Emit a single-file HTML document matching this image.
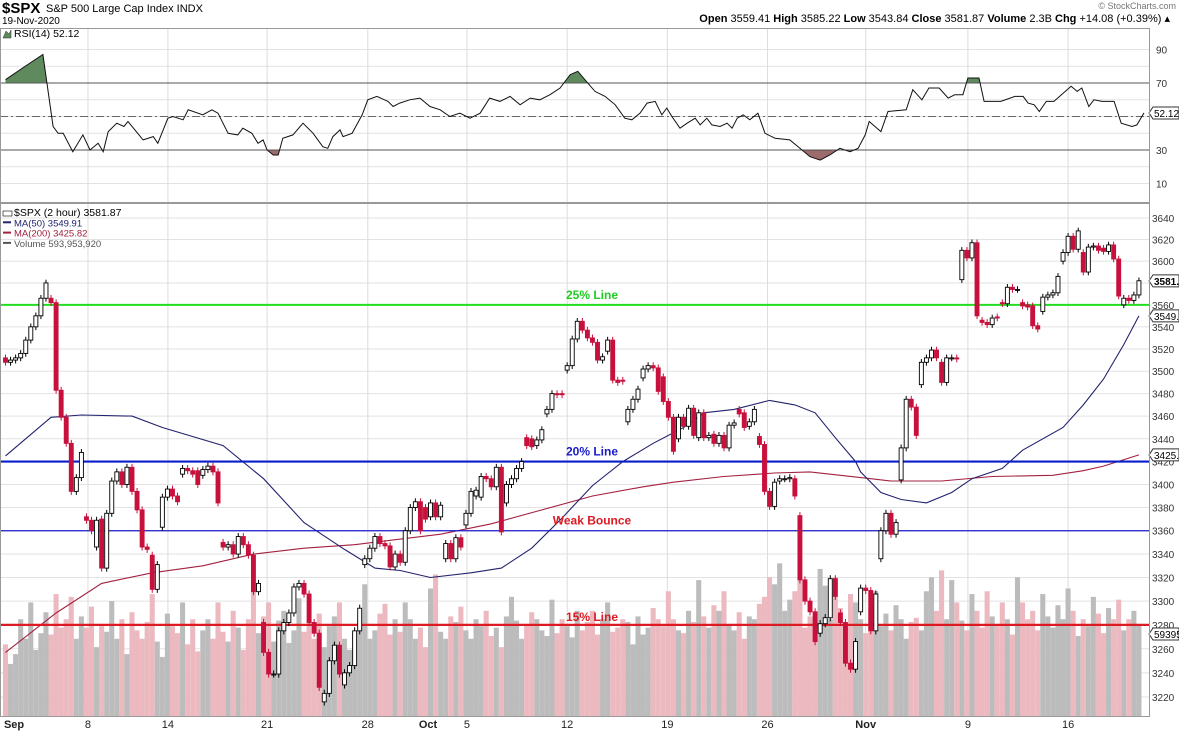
<!DOCTYPE html>
<html><head><meta charset="utf-8">
<style>
html,body{margin:0;padding:0;background:#fff;}
svg{display:block;font-family:"Liberation Sans",Arial,sans-serif;}
</style></head>
<body>
<svg id="chart" width="1179" height="732" viewBox="0 0 1179 732" xmlns="http://www.w3.org/2000/svg">
<rect x="0" y="0" width="1179" height="732" fill="#fff"/>
<g id="header">
  <text x="2" y="13" font-size="15" font-weight="bold" fill="#000">$SPX</text>
  <text x="46" y="12" font-size="11" fill="#000">S&amp;P 500 Large Cap Index  INDX</text>
  <text x="2" y="24" font-size="10" fill="#000">19-Nov-2020</text>
  <text x="1176" y="9" font-size="9" fill="#777" text-anchor="end">© StockCharts.com</text>
  <text x="1170" y="22" font-size="11" fill="#000" text-anchor="end"><tspan font-weight="bold">Open</tspan> 3559.41  <tspan font-weight="bold">High</tspan> 3585.22  <tspan font-weight="bold">Low</tspan> 3543.84  <tspan font-weight="bold">Close</tspan> 3581.87  <tspan font-weight="bold">Volume</tspan> 2.3B  <tspan font-weight="bold">Chg</tspan> +14.08 (+0.39%) ▴</text>
</g>
<g id="rsiPanel"></g>
<g id="mainPanel"></g>
<g id="xAxis"></g>
</svg>
<script>
const opens = [3512,3508,3510,3512,3516,3528,3540,3550,3566,3566,3562,3483,3459,3436,3394,3406,3372,3369,3346,3370,3328,3375,3403,3411,3400,3415,3394,3378,3346,3339,3310,3363,3389,3396,3390,3409,3414,3412,3412,3408,3413,3416,3411,3350,3346,3348,3340,3355,3348,3339,3308,3282,3257,3239,3239,3275,3282,3290,3312,3315,3306,3282,3273,3216,3223,3250,3263,3230,3240,3246,3275,3331,3336,3345,3355,3349,3347,3329,3340,3333,3360,3380,3385,3380,3372,3384,3372,3336,3349,3336,3354,3365,3375,3390,3389,3407,3405,3398,3415,3384,3400,3405,3414,3441,3440,3434,3439,3462,3466,3480,3480,3501,3505,3529,3545,3537,3530,3526,3510,3518,3528,3492,3492,3455,3466,3475,3494,3502,3505,3503,3495,3473,3459,3440,3459,3451,3467,3441,3463,3441,3444,3436,3443,3432,3452,3466,3463,3451,3455,3442,3435,3394,3381,3403,3405,3405,3405,3373,3318,3300,3291,3273,3281,3286,3319,3290,3282,3248,3243,3291,3311,3309,3275,3336,3360,3375,3357,3404,3432,3475,3468,3488,3508,3512,3519,3508,3490,3512,3512,3583,3610,3603,3617,3546,3544,3542,3549,3562,3561,3576,3574,3562,3560,3559,3541,3554,3567,3569,3571,3600,3608,3623,3611,3608,3590,3613,3614,3612,3609,3615,3602,3560,3566,3564,3569];
const closes = [3508,3510,3512,3516,3528,3540,3550,3566,3580,3562,3483,3459,3436,3394,3406,3428,3369,3360,3369,3328,3375,3403,3411,3400,3415,3394,3378,3346,3344,3310,3331,3389,3396,3390,3385,3414,3412,3409,3400,3413,3416,3411,3384,3346,3348,3340,3355,3348,3339,3308,3315,3257,3239,3239,3275,3282,3290,3312,3315,3306,3282,3273,3228,3223,3250,3263,3239,3240,3246,3275,3294,3336,3345,3355,3349,3347,3329,3340,3333,3360,3380,3385,3360,3370,3384,3372,3382,3349,3336,3354,3346,3375,3394,3395,3407,3405,3398,3415,3359,3400,3405,3414,3420,3434,3433,3439,3448,3466,3480,3479,3479,3505,3529,3545,3537,3530,3526,3510,3513,3528,3492,3490,3491,3466,3475,3484,3502,3505,3503,3482,3473,3459,3429,3459,3451,3467,3443,3463,3441,3443,3436,3443,3432,3452,3454,3462,3450,3455,3466,3435,3394,3381,3402,3405,3405,3406,3390,3318,3300,3291,3266,3281,3286,3319,3304,3282,3248,3243,3266,3311,3309,3275,3306,3360,3375,3357,3367,3432,3475,3468,3443,3508,3512,3519,3512,3490,3512,3512,3511,3610,3603,3617,3550,3544,3542,3548,3548,3561,3576,3574,3574,3559,3558,3541,3538,3567,3569,3571,3586,3608,3623,3611,3628,3590,3613,3614,3610,3609,3615,3602,3568,3566,3564,3569,3582];
const volumes = [520,380,450,700,560,820,480,600,750,590,880,640,700,860,560,720,640,790,500,650,610,830,560,700,450,750,620,560,680,880,540,430,740,650,600,820,520,700,470,620,700,560,820,610,540,760,640,480,700,900,600,720,820,540,690,760,530,620,850,610,700,560,740,500,650,720,820,560,480,600,700,950,560,620,740,810,590,700,610,820,700,560,640,500,920,1020,610,560,720,680,790,620,560,700,650,760,580,640,500,720,860,690,560,660,750,700,620,580,840,600,700,650,570,760,620,680,760,590,700,820,610,640,700,680,520,720,590,640,780,700,650,900,700,620,600,760,680,980,720,640,800,760,900,660,620,750,560,720,700,810,860,1000,950,1100,760,840,900,980,640,720,700,1060,940,700,1000,780,640,880,820,700,600,780,900,650,740,620,800,700,560,680,710,620,900,1000,760,1050,700,980,820,690,620,880,760,640,900,720,660,820,700,590,1000,820,700,760,620,880,720,640,800,700,920,760,580,700,650,860,740,600,780,700,840,620,700,760,660,800,700,720];
const ma50Idx = [0,9,15,25,31,43,51,59,67,73,78,84,92,98,104,110,116,122,128,134,138,144,151,156,160,164,168,169,173,177,182,187,191,197,201,209,213,217,221,224];
const ma50Val = [3425,3459,3461,3460,3450,3434,3405,3367,3344,3328,3326,3320,3324,3328,3345,3371,3399,3420,3436,3450,3463,3466,3474,3470,3463,3441,3420,3411,3393,3387,3384,3393,3405,3414,3430,3450,3470,3493,3524,3549.91];
const ma200Idx = [0,10,19,29,39,49,59,69,86,96,106,116,126,132,142,152,159,165,171,175,185,195,207,213,217,224];
const ma200Val = [3257,3290,3315,3324,3330,3340,3345,3348,3357,3366,3378,3390,3398,3402,3407,3410,3411,3408,3405,3403,3403,3407,3408,3412,3416,3425.82];
const rsiIdx = [0,2.9,7.4,9.4,10.4,11.4,13.3,15.3,16.7,18.3,19.3,20.3,22,23.4,24.2,27.2,29.2,30.1,32.1,33.1,35.1,36.1,39,40.8,42,44,45.9,46.9,48.7,49.9,50.9,51.7,52.9,53.9,54.8,56.8,58.8,60.8,62.7,63.7,64.7,66.1,66.7,68.5,70.5,71.6,73.4,75.6,76.6,77.9,79.9,81.9,83.9,85.9,87.8,89.8,91.8,93.8,95.7,97.7,99.7,101.7,103.7,105.6,107.6,109.6,111.6,113.1,114.5,116.5,118.5,120.5,122.4,123.8,125.4,126.8,128.4,129.7,130.7,131.7,133.3,134.7,136.3,137.3,138.6,139.6,141.2,142.6,143.6,144.6,145.8,147.1,148.7,150.1,152.1,155,157,159,161,162.9,164.9,166.9,168.5,169.9,170.7,173,174.4,178,179.3,181.1,182.5,184.5,186.3,187.6,189.2,190.2,192.4,193.4,196.7,199.5,201.1,202.1,203.3,204.3,205.7,207.2,210.6,211.8,212.7,214.1,215.1,216.7,218.1,219.1,220.5,222.6,223.6,225];
const rsiVal = [72,78,87,44,40,40,29,39,30,34,29,41,46,44,47,36,38,34,49,50,48,54,51,54,52,40,39,43,40,34,36,30,27,27,37,39,46,40,32,31,38,42,38,40,51,60,62,59,56,58,60,61,56,54,50,52,49,52,61,59,62,57,61,60,63,67,75,77,72,65,62,57,49,48,52,58,59,51,55,50,43,46,49,45,49,45,44,46,43,49,51,48,52,40,37,36,31,26,24,27,31,29,31,39,47,41,53,54,66,60,67,67,61,63,63,73,73,59,59,62,62,58,57,53,59,59,68,65,67,56,60,59,59,59,46,44,45,52.12];
const priceTicks = [3220,3240,3260,3280,3300,3320,3340,3360,3380,3400,3420,3440,3460,3480,3500,3520,3540,3560,3580,3600,3620,3640];
const rsiTicks = [10,30,70,90];
const dateLabels = ["Sep","8","14","21","28","Oct","5","12","19","26","Nov","9","16"];
const dateBold = [1,0,0,0,0,1,0,0,0,0,1,0,0];
const dateIdx = [0.9,16.3,32.1,51.7,71.6,83.5,91.2,111,130.8,150.6,170,190.2,210];
const levelValues = [3560,3420,3360,3280];
const levelNames = ["25% Line","20% Line","Weak Bounce","15% Line"];

const NS = "http://www.w3.org/2000/svg";
const PR = 1149;
function el(tag, attrs, parent, txt){const e=document.createElementNS(NS,tag);for(const k in attrs)e.setAttribute(k,attrs[k]);if(txt!==undefined)e.textContent=txt;parent.appendChild(e);return e;}
const xOf = i => 5.5 + i*5.06;
const L0 = Math.log(3640);
const yP = p => 218 + (L0 - Math.log(p))*3907;
const yR = v => 116.5 - (v-50)*1.675;
const yV = v => 717 - v*0.1397;

// ---------- RSI panel ----------
const rp = document.getElementById('rsiPanel');
for (let v=10; v<=90; v+=10){
  const g = el('line',{x1:0,x2:PR,y1:yR(v),y2:yR(v),stroke:'#e2e2e2','stroke-width':1},rp);
  
  
}
for (let k=1;k<dateIdx.length;k++){ if(dateLabels[k]==='Oct') continue;
  const g = el('line',{x1:xOf(dateIdx[k]),x2:xOf(dateIdx[k]),y1:28,y2:202,stroke:'#dcdcdc'},rp);
  
  
}
let rpts = rsiIdx.map((d,k)=>[xOf(d),yR(rsiVal[k])]);
const rline = 'M'+rpts.map(p=>p[0].toFixed(1)+','+p[1].toFixed(1)).join('L');
const defs = el('defs',{},document.getElementById('chart'));
const c1 = el('clipPath',{id:'above70'},defs); el('rect',{x:0,y:0,width:PR,height:yR(70)},c1);
const c2 = el('clipPath',{id:'below30'},defs); el('rect',{x:0,y:yR(30),width:PR,height:100},c2);
const f1 = el('path',{d:rline+`L${rpts[rpts.length-1][0]},${yR(70)}L${rpts[0][0]},${yR(70)}Z`,fill:'#5e8a5e','clip-path':'url(#above70)'},rp);


const f2 = el('path',{d:rline+`L${rpts[rpts.length-1][0]},${yR(30)}L${rpts[0][0]},${yR(30)}Z`,fill:'#9c6b6b','clip-path':'url(#below30)'},rp);


[70,30].forEach(v=>{const l=el('line',{x1:0,x2:PR,y1:yR(v),y2:yR(v),stroke:'#555','stroke-width':1},rp);
  
  });
const mid = el('line',{x1:0,x2:PR,y1:yR(50),y2:yR(50),stroke:'#666','stroke-dasharray':'8,3,2,3'},rp);


const rl = el('path',{d:rline,fill:'none',stroke:'#111','stroke-width':1},rp);


rsiTicks.forEach(v=>{const t=el('text',{x:1156,y:yR(v)+4,'font-size':10,fill:'#333'},rp,String(v));
  
  });
const rb = el('path',{d:`M1149,${yR(52.12)}L1153,${yR(52.12)-6}H1179V${yR(52.12)+6}H1153Z`,fill:'#fff',stroke:'#333'},rp);


const rbt = el('text',{x:1154,y:yR(52.12)+4,'font-size':10,fill:'#000'},rp,'52.12');


const rf = el('rect',{x:0.5,y:28.5,width:PR,height:174,fill:'none',stroke:'#999'},rp);


const rleg = el('text',{x:14,y:37,'font-size':10.5,fill:'#000'},rp,'RSI(14) 52.12');


el('path',{d:'M3,38L6,31L9,34L11,30V38Z',fill:'#5e8a5e',stroke:'#333','stroke-width':0.5},rp);

// ---------- Main panel ----------
const mp = document.getElementById('mainPanel');
priceTicks.forEach(p=>{const g=el('line',{x1:0,x2:PR,y1:yP(p),y2:yP(p),stroke:'#e2e2e2'},mp);
  
  });
for (let k=1;k<dateIdx.length;k++){ if(dateLabels[k]==='Oct') continue;
  const g=el('line',{x1:xOf(dateIdx[k]),x2:xOf(dateIdx[k]),y1:204,y2:717,stroke:'#dcdcdc'},mp);
  
  }
volumes.forEach((v,i)=>{ if(i>=closes.length) return;
  const up = closes[i]>=opens[i];
  const r=el('rect',{x:xOf(i)-2.55,y:yV(v),width:5.06,height:717-yV(v),fill:up?'#bcbcbc':'#ebb9bf'},mp);
  
  });
function maPath(ix,vals){return 'M'+ix.map((d,k)=>xOf(d).toFixed(1)+','+yP(vals[k]).toFixed(1)).join('L');}
const m200 = el('path',{d:maPath(ma200Idx,ma200Val),fill:'none',stroke:'#a3213f','stroke-width':1.1},mp);


const m50 = el('path',{d:maPath(ma50Idx,ma50Val),fill:'none',stroke:'#23236e','stroke-width':1.1},mp);


const lvColors = ['#22dd22','#0a1ec8','#1a1acc','#dd1a22'];
const lvWidth = [2,2.2,1.3,2.2];
const lvLabelColor = ['#22cc22','#1a1ac8','#dd1a22','#dd1a22'];
levelValues.forEach((p,k)=>{
  const l=el('line',{x1:0,x2:PR,y1:yP(p),y2:yP(p),stroke:lvColors[k],'stroke-width':lvWidth[k]},mp);
  
  
  const t=el('text',{x:592,y:yP(p)-(k===3?4:6),'font-size':12,'font-weight':'bold',fill:lvLabelColor[k],'text-anchor':'middle'},mp,levelNames[k]);
  
  
});
closes.forEach((c,i)=>{
  const o=opens[i], x=xOf(i);
  const hi=Math.max(o,c)+3, lo=Math.min(o,c)-3;
  const w=el('line',{x1:x,x2:x,y1:yP(hi),y2:yP(lo),stroke:c>=o?'#000':'#c8103c','stroke-width':1},mp);
  
  
  const top=yP(Math.max(o,c)), bot=yP(Math.min(o,c));
  const b=el('rect',{x:x-2,y:top,width:4,height:Math.max(1,bot-top),fill:c>=o?'#fff':'#c8103c',stroke:c>=o?'#000':'#c8103c','stroke-width':0.9},mp);
  
  
});
priceTicks.forEach(p=>{const t=el('text',{x:1152,y:yP(p)+4,'font-size':10,fill:'#333'},mp,String(p));
  
  });
function callout(val,txt,bold,name){
  const y=yP(val);
  const p=el('path',{d:`M1149,${y}L1153,${y-6}H1179V${y+6}H1153Z`,fill:'#fff',stroke:'#333'},mp);
  
  
  const t=el('text',{x:1154,y:y+4,'font-size':10,'font-weight':bold?'bold':'normal',fill:'#000'},mp,txt);
  
  
}
callout(3581.87,'3581.87',true,'close-callout');
callout(3549.91,'3549.91',false,'ma50-callout');
callout(3425.82,'3425.82',false,'ma200-callout');
{ const y=yV(593.95);
  const p=el('path',{d:`M1149,${y}L1153,${y-6}H1179V${y+6}H1153Z`,fill:'#fff',stroke:'#333'},mp);
  
  
  const t=el('text',{x:1154,y:y+4,'font-size':10,fill:'#000'},mp,'593953920');
  
  
}
const mf = el('rect',{x:0.5,y:203.5,width:PR,height:513,fill:'none',stroke:'#999'},mp);


const legTexts=[['$SPX (2 hour) 3581.87','#000'],['MA(50) 3549.91','#23236e'],['MA(200) 3425.82','#a3213f'],['Volume 593,953,920','#555']];
legTexts.forEach((lt,k)=>{
  const t=el('text',{x:14,y:216+k*10.3,'font-size':k===0?10.5:9.5,fill:lt[1]},mp,lt[0]);
  
  
  el('rect',{x:3,y:211+k*10.3,width:k===0?9:8,height:k===0?5:2,fill:k===0?'#fff':lt[1],stroke:k===0?'#000':'none','stroke-width':0.6},mp);
});

const xa=document.getElementById('xAxis');
dateLabels.forEach((d,k)=>{
  const t=el('text',{x:xOf(dateIdx[k])+(d==='Sep'?4:0),y:728,'font-size':11,'font-weight':dateBold[k]?'bold':'normal','text-anchor':'middle',fill:'#222'},xa,d);
  
  
});
</script>
</body></html>
